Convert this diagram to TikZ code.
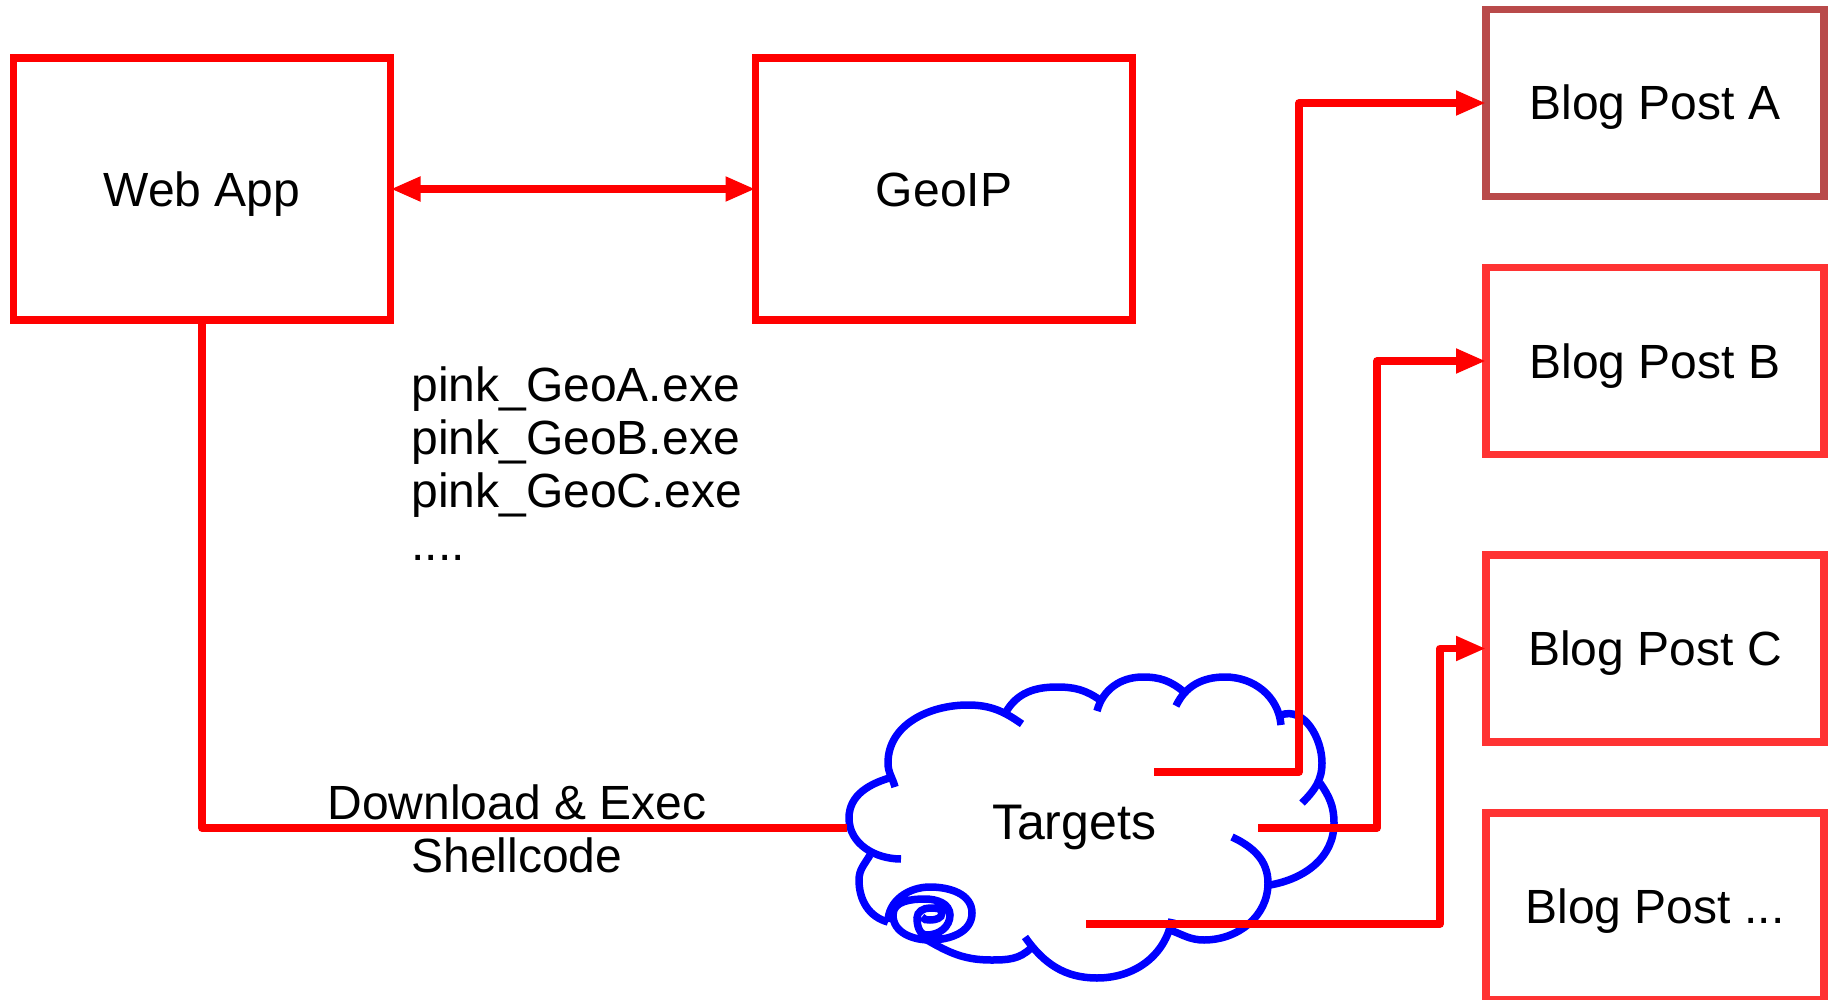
\documentclass[tikz,border=0pt]{standalone}
\usepackage{fontspec}
\setmainfont{Liberation Sans}
\usepackage{xcolor}
\usetikzlibrary{arrows.meta, positioning}
\definecolor{paleRed}{HTML}{FF3333}
\definecolor{dullRed}{HTML}{B94A4A}

\begin{document}
\begin{tikzpicture}[
    x=1pt, y=-1pt,
    every node/.style={font=\fontsize{48}{53}\selectfont, align=center},
    appbox/.style={draw=red, line width=7.5pt, outer sep=0pt, text height=35pt, text depth=0pt, minimum width=377pt, minimum height=262pt},
    postbox/.style={draw=paleRed, line width=7.5pt, outer sep=0pt, text height=34pt, text depth=0pt, minimum width=338pt, minimum height=187pt},
    arrow/.style={-{Triangle[length=30pt, width=23pt]}, red, line width=7.5pt, line join=round},
    wire/.style={red, line width=7.5pt, line join=round},
    cloudline/.style={blue, line width=7.5pt}
]
\useasboundingbox (0,0) rectangle (1837,1000);

% Nodes
\node[appbox] (webapp) at (202,189) {Web App};
\node[appbox] (geoip) [right=365pt of webapp] {GeoIP};
\node[postbox, draw=dullRed] (blogA) at (1655,103) {Blog Post A};
\node[postbox] (blogB) [below=71pt of blogA] {Blog Post B};
\node[postbox] (blogC) [below=100.5pt of blogB] {Blog Post C};
\node[postbox] (blogD) [below=71pt of blogC] {Blog Post ...};
\node (files) [anchor=north west, align=left] at (408,363) {pink\_GeoA.exe\\pink\_GeoB.exe\\pink\_GeoC.exe\\....};
\node (shellcode) at (517,829) {Download \& Exec\\Shellcode};
\node (targets) [font=\fontsize{50}{55}\selectfont, text height=35pt, text depth=0pt] at (1074,822) {Targets};

% Cloud
\draw[cloudline] (895,787) to[out=105,in=270] (888,763) to[out=90,in=180] (968,705) to[out=0,in=145] (1022,724);
\draw[cloudline] (1006,712) to[out=60,in=180] (1057,687) to[out=0,in=145] (1100,700);
\draw[cloudline] (1097,711) to[out=75,in=180] (1143,677) to[out=0,in=140] (1184,692);
\draw[cloudline] (1176,706) to[out=65,in=180] (1225,677) to[out=0,in=95] (1281,725);
\draw[cloudline] (1281,715) to[out=20,in=90] (1322,763) to[out=270,in=45] (1302,803);
\draw[cloudline] (1320,783) to[out=-55,in=90] (1334,823) to[out=270,in=10] (1270,885);
\draw[cloudline] (1232,837) to[out=-25,in=90] (1268,883) to[out=270,in=0] (1204,940) to[out=180,in=-20] (1170,930);
\draw[cloudline] (1172,919) to[out=-100,in=0] (1097,978) to[out=180,in=-55] (1025,937);
\draw[cloudline] (1031,948) to[out=-135,in=0] (991,960) to[out=180,in=-30] (927,940);
\draw[cloudline] (888,922) to[out=90,in=180] (930,887) to[out=0,in=90] (972,913) to[out=-90,in=0] (930,940) to[out=180,in=-90] (893,915)
    to[out=90,in=180] (925,899) to[out=0,in=90] (950,915) to[out=-90,in=0] (927,935) to[out=180,in=-90] (917,918)
    to[out=90,in=180] (930,908) to[out=0,in=90] (942,913) to[out=-90,in=0] (930,920) to[out=180,in=-60] (922,917);
\draw[cloudline] (888,922) to[out=165,in=-90] (859,880) to[out=90,in=-120] (870,855);
\draw[cloudline] (901,859) to[out=180,in=-90] (849,818) to[out=90,in=195] (893,777);

% Free ends
\coordinate (targetsIn) at (847,828);
\coordinate (targetsA) at (1154,772);
\coordinate (targetsB) at (1258,828);
\coordinate (targetsC) at (1086,924);
\coordinate (busA) at (1299,772);
\coordinate (busB) at (1377,828);
\coordinate (busC) at (1440,924);

% Edges
\draw[arrow, {Triangle[length=30pt, width=23pt]}-{Triangle[length=30pt, width=23pt]}] (webapp) -- (geoip);
\draw[wire] (webapp.south) |- (targetsIn);
\draw[arrow] (targetsA) -- (busA) |- (blogA.west);
\draw[arrow] (targetsB) -- (busB) |- (blogB.west);
\draw[arrow] (targetsC) -- (busC) |- (blogC.west);

\end{tikzpicture}
\end{document}
